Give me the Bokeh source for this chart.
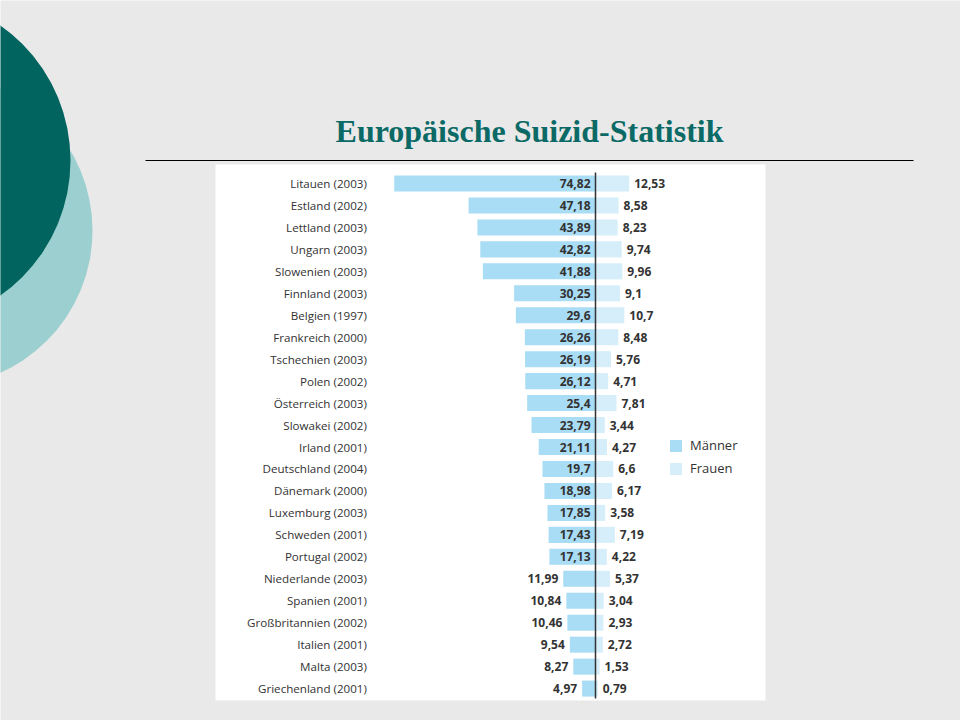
from bokeh.plotting import figure
from bokeh.models import Range1d, ColumnDataSource, Legend, LegendItem, Label
from bokeh.core.properties import value
from bokeh.embed import file_html
from bokeh.resources import INLINE

# ---------------- data ----------------
categories = ["Litauen (2003)", "Estland (2002)", "Lettland (2003)", "Ungarn (2003)",
              "Slowenien (2003)", "Finnland (2003)", "Belgien (1997)", "Frankreich (2000)",
              "Tschechien (2003)", "Polen (2002)", "Österreich (2003)", "Slowakei (2002)",
              "Irland (2001)", "Deutschland (2004)", "Dänemark (2000)", "Luxemburg (2003)",
              "Schweden (2001)", "Portugal (2002)", "Niederlande (2003)", "Spanien (2001)",
              "Großbritannien (2002)", "Italien (2001)", "Malta (2003)", "Griechenland (2001)"]
maenner = [74.82, 47.18, 43.89, 42.82, 41.88, 30.25, 29.6, 26.26, 26.19, 26.12, 25.4, 23.79,
           21.11, 19.7, 18.98, 17.85, 17.43, 17.13, 11.99, 10.84, 10.46, 9.54, 8.27, 4.97]
frauen = [12.53, 8.58, 8.23, 9.74, 9.96, 9.1, 10.7, 8.48, 5.76, 4.71, 7.81, 3.44,
          4.27, 6.6, 6.17, 3.58, 7.19, 4.22, 5.37, 3.04, 2.93, 2.72, 1.53, 0.79]
series_names = ["Männer", "Frauen"]
title_text = "Europäische Suizid-Statistik"

# ---------------- styling ----------------
W, H = 960, 720
BG = "#e9e9e9"
C_M = "#a9dcf5"
C_F = "#d5eefa"
TEXT = "#333333"
TEAL = "#0b6a66"
FONT = "Open Sans"

def de(v):
    return f"{v:g}".replace(".", ",")

rows = list(range(len(categories)))
neg_m = [-v for v in maenner]
inside = [v >= 15 for v in maenner]
m_lab_x = [0 if ins else -v for v, ins in zip(maenner, inside)]

src = ColumnDataSource(dict(
    row=rows, cat=categories, m=maenner, f=frauen, neg_m=neg_m,
    m_txt=[de(v) for v in maenner], f_txt=[de(v) for v in frauen],
    m_lab_x=m_lab_x,
))

p = figure(width=W, height=H, output_backend="svg", toolbar_location=None,
           x_range=Range1d(0, W), y_range=Range1d(H, 0),
           min_border=0, x_axis_location=None, y_axis_location=None,
           background_fill_color=BG, border_fill_color=BG, outline_line_color=None)
p.grid.visible = False

# scale: value 0 at x 595, 2.69 px per unit; row 0 at y 183, 21.96 px per row
px_per_unit = 2.69
zero_x = 595
row0_y = 183
row_h = 21.96
p.extra_x_ranges = {"v": Range1d(-zero_x / px_per_unit, (W - zero_x) / px_per_unit)}
p.extra_y_ranges = {"r": Range1d((H - row0_y) / row_h, -row0_y / row_h)}

# decorations
p.circle(x=[-64], y=[230], radius=156, fill_color="#9ccfcf", line_color=None)
p.circle(x=[-95], y=[160], radius=165, fill_color="#02645f", line_color=None)
p.quad(left=[215], right=[765], top=[164], bottom=[700], fill_color="white", line_color=None)
p.segment(x0=[145], x1=[913], y0=[160], y1=[160], line_color="black", line_width=1.2)
p.add_layout(Label(x=529, y=130, text=title_text, text_font="Liberation Serif",
                   text_font_style="bold", text_font_size="32px", text_color=TEAL,
                   text_align="center", text_baseline="middle"))

# bars
rm = p.hbar(y="row", left="neg_m", right=0, height=0.73, source=src,
            x_range_name="v", y_range_name="r", fill_color=C_M, line_color=None)
rf = p.hbar(y="row", left=0, right="f", height=0.73, source=src,
            x_range_name="v", y_range_name="r", fill_color=C_F, line_color=None)

# center line
p.segment(x0=[0], x1=[0], y0=[-0.5], y1=[len(categories) - 0.55], x_range_name="v",
          y_range_name="r", line_color="#333333", line_width=1.5)

# labels
p.text(x=-85, y="row", text="cat", source=src, x_range_name="v", y_range_name="r",
       text_align="right", text_baseline="middle", text_font=value(FONT),
       text_font_size="11.6px", text_color=TEXT)
p.text(x="m_lab_x", y="row", text="m_txt", source=src, x_range_name="v", y_range_name="r",
       x_offset=-5, text_align="right", text_baseline="middle", text_font=value(FONT),
       text_font_size="12px", text_font_style="bold", text_color=TEXT)
p.text(x="f", y="row", text="f_txt", source=src, x_range_name="v", y_range_name="r",
       x_offset=5, text_align="left", text_baseline="middle", text_font=value(FONT),
       text_font_size="12px", text_font_style="bold", text_color=TEXT)

legend = Legend(items=[LegendItem(label=series_names[0], renderers=[rm]),
                       LegendItem(label=series_names[1], renderers=[rf])],
                location=(668, 243), orientation="vertical",
                background_fill_alpha=0, border_line_color=None,
                glyph_width=15, glyph_height=15, label_height=15, spacing=5,
                padding=0, margin=0, label_standoff=7,
                label_text_font=FONT, label_text_font_size="13px", label_text_color=TEXT)
p.add_layout(legend)

open("out.html", "w").write(file_html(p, INLINE))
